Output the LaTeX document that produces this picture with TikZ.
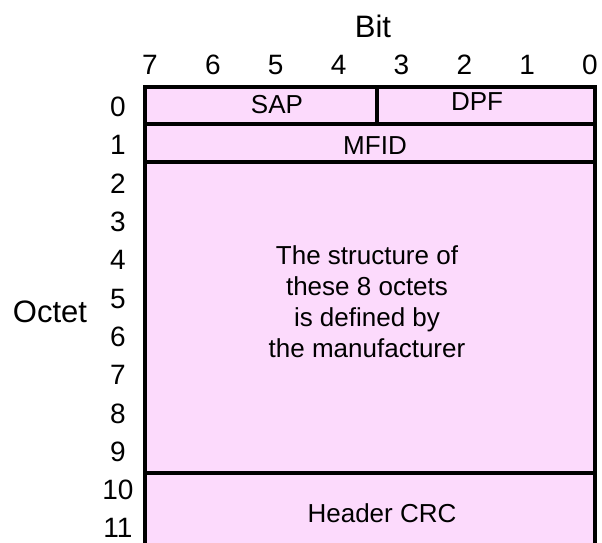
\documentclass[tikz,border=0pt]{standalone}
\usepackage{fontspec}
\setmainfont{Liberation Sans}
\usepackage{xcolor}
\usetikzlibrary{positioning}
\definecolor{fieldpink}{RGB}{252,218,252}

\begin{document}
\begin{tikzpicture}[x=1pt, y=-1pt]
				% Styles
				\tikzstyle{field} = [draw, fill=fieldpink, line width=3.5pt, rectangle, inner sep=0pt, outer sep=0pt]
				\tikzstyle{fieldtext} = [inner sep=0pt, align=center, font=\fontsize{26}{31}\selectfont]
				\tikzstyle{numtext} = [inner sep=0pt, font=\fontsize{28}{32}\selectfont]
				\tikzstyle{axistext} = [inner sep=0pt, font=\fontsize{31}{36}\selectfont]

				\useasboundingbox (0,0) rectangle (602,542);

				% Fields
				\node (sap) [field, minimum width=232pt, minimum height=37pt] at (261,105.5) {};
				\node (dpf) [field, minimum width=218pt, minimum height=37pt] at (486,105.5) {};
				\node (mfid) [field, minimum width=450pt, minimum height=38pt] at (370,143) {};
				\node (mfr) [field, minimum width=450pt, minimum height=311pt] at (370,317.5) {};
				\node (crc) [field, minimum width=450pt, minimum height=107pt] at (370,526.5) {};

				% Field texts
				\node (saptext) [fieldtext] at (277,105) {SAP};
				\node (dpftext) [fieldtext] at (477,102) {DPF};
				\node (mfidtext) [fieldtext] at (375,146) {MFID};
				\node (mfrtext) [fieldtext] at (367,302) {The structure of\\these 8 octets\\is defined by\\the manufacturer};
				\node (crctext) [fieldtext] at (382,513) {Header CRC};

				% Axes
				\node (bit) [axistext] at (373,26) {Bit};
				\foreach \b in {0,...,7}
					\node (bit\b) [numtext] at ({150+(7-\b)*62.86},65) {\b};
				\node (octet) [axistext] at (50,312) {Octet};
				\foreach \o in {0,...,11}
					\node (oct\o) [numtext] at (118,{107+\o*38.3}) {\o};

			\end{tikzpicture}
\end{document}
